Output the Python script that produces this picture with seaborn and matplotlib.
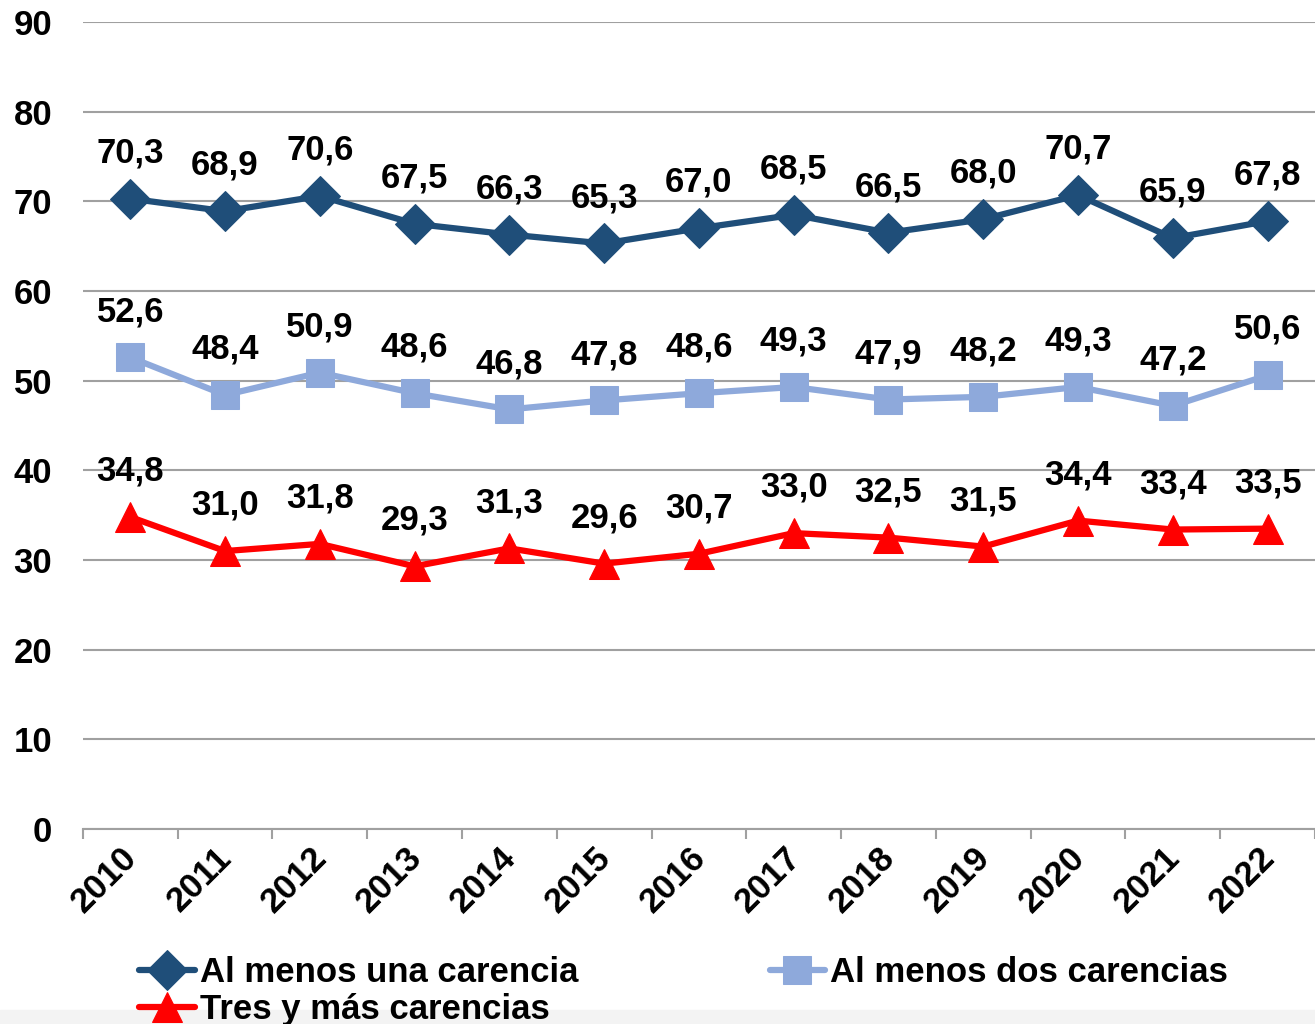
import numpy as np
import pandas as pd
import matplotlib
matplotlib.use("Agg")
import matplotlib.pyplot as plt
import matplotlib.transforms as mtransforms
import seaborn as sns
from matplotlib.patches import Rectangle

years = ['2010', '2011', '2012', '2013', '2014', '2015', '2016',
         '2017', '2018', '2019', '2020', '2021', '2022']
una = [70.3, 68.9, 70.6, 67.5, 66.3, 65.3, 67.0, 68.5, 66.5, 68.0, 70.7, 65.9, 67.8]
dos = [52.6, 48.4, 50.9, 48.6, 46.8, 47.8, 48.6, 49.3, 47.9, 48.2, 49.3, 47.2, 50.6]
tres = [34.8, 31.0, 31.8, 29.3, 31.3, 29.6, 30.7, 33.0, 32.5, 31.5, 34.4, 33.4, 33.5]

series_names = ['Al menos una carencia', 'Al menos dos carencias', 'Tres y más carencias']
colors = ['#1F4E79', '#8EA9DB', '#FF0000']
markers = ['D', 's', '^']
msizes = [20, 20, 21]

sns.set_style('white')
plt.rcParams['font.family'] = ['Liberation Sans', 'DejaVu Sans']
plt.rcParams['font.weight'] = 'bold'
plt.rcParams['text.color'] = 'black'
plt.rcParams['xtick.color'] = 'black'
plt.rcParams['ytick.color'] = 'black'

FS = 25

fig = plt.figure(figsize=(13.15, 10.24), dpi=100)
ax = fig.add_axes([0.063, 0.1904, 0.937, 0.7881])

x = np.arange(len(years))
for name, vals, c, m, ms in zip(series_names, [una, dos, tres], colors, markers, msizes):
    df = pd.DataFrame({'x': x, 'y': vals})
    sns.lineplot(data=df, x='x', y='y', ax=ax, color=c, linewidth=4.5,
                 marker=m, markersize=ms, markeredgecolor=c, label=name)
    for xi, v in zip(x, vals):
        ax.annotate(f'{v:.1f}'.replace('.', ','), (xi, v), xytext=(0, 33),
                    textcoords='offset points', ha='center', va='center',
                    fontsize=FS, fontweight='bold', color='black')

ax.set_xlim(-0.5, len(years) - 0.5)
ax.set_ylim(0, 90)
ax.set_yticks(range(0, 91, 10))
ax.set_yticklabels([str(v) for v in range(0, 91, 10)], fontsize=FS, fontweight='bold')
ax.tick_params(axis='y', length=0, pad=22)

ax.set_xticks(x)
ax.set_xticklabels(years, rotation=45, ha='right', rotation_mode='anchor',
                   fontsize=FS, fontweight='bold')
ax.set_xticks(np.arange(-0.5, len(years)), minor=True)
ax.tick_params(axis='x', which='major', length=0, pad=10, bottom=False)
ax.tick_params(axis='x', which='minor', length=7, width=1.5, color='#a0a0a0', bottom=True)
shift = mtransforms.ScaledTranslation(-10 / 100, 2 / 100, fig.dpi_scale_trans)
for lbl in ax.get_xticklabels():
    lbl.set_transform(lbl.get_transform() + shift)

ax.grid(axis='y', color='#a0a0a0', linewidth=1.5)
ax.set_axisbelow(True)
for s in ['left', 'right', 'top']:
    ax.spines[s].set_visible(False)
ax.spines['bottom'].set_color('#a0a0a0')
ax.spines['bottom'].set_linewidth(1.5)
ax.set_xlabel('')
ax.set_ylabel('')

handles, labels = ax.get_legend_handles_labels()
ax.get_legend().remove()
order = [0, 2, 1]
fig.legend([handles[i] for i in order], [labels[i] for i in order], ncol=2,
           loc='upper left', bbox_to_anchor=(0.106, 0.066),
           frameon=False, prop={'size': FS, 'weight': 'bold'}, handlelength=1.6,
           handletextpad=0.15, columnspacing=5.5, labelspacing=0.1, borderaxespad=0,
           borderpad=0)

fig.patches.append(Rectangle((0, 0), 1, 14 / 1024, transform=fig.transFigure,
                             color='#f3f3f3', zorder=-1))

fig.savefig('out.png', dpi=100)
